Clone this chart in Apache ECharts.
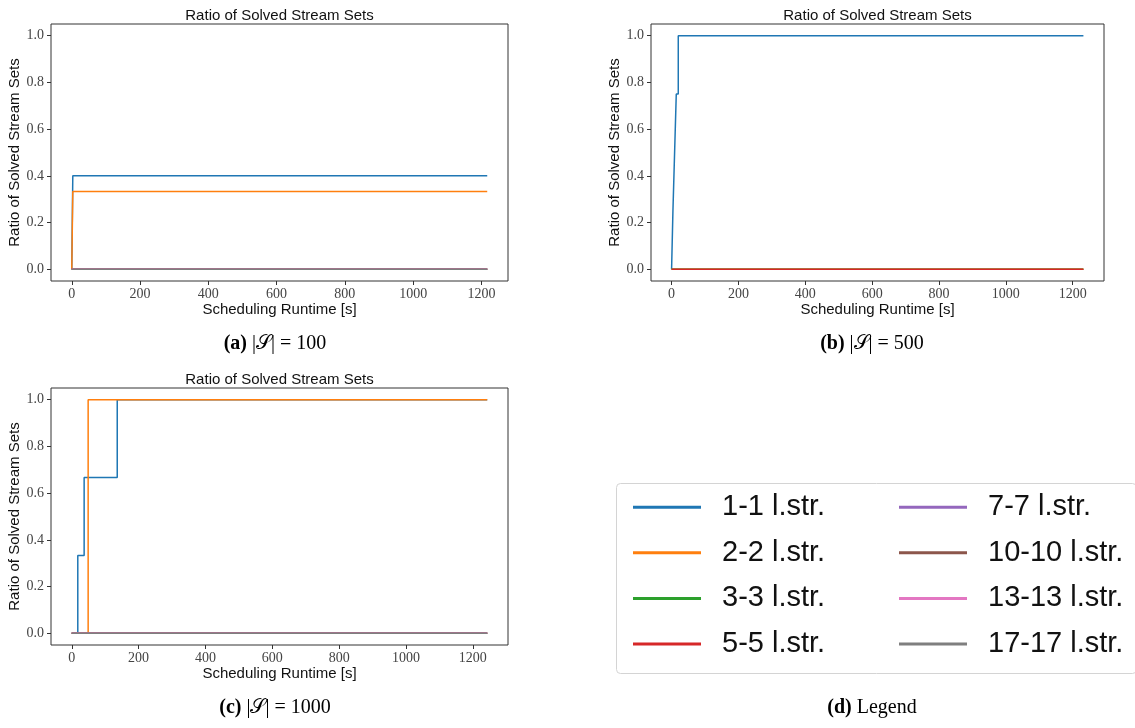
<!DOCTYPE html>
<html>
<head>
<meta charset="utf-8">
<script src="https://cdn.jsdelivr.net/npm/echarts@6/dist/echarts.min.js"></script>
<style>
html,body{margin:0;padding:0;background:#fff;}
#c{width:1135px;height:728px;}
</style>
</head>
<body>
<div id="c"></div>
<script>
// ---- data ----
const seriesNames = ['1-1 l.str.', '2-2 l.str.', '3-3 l.str.', '5-5 l.str.', '7-7 l.str.', '10-10 l.str.', '13-13 l.str.', '17-17 l.str.'];
const colors = ['#1f77b4', '#ff7f0e', '#2ca02c', '#d62728', '#9467bd', '#8c564b', '#e377c2', '#7f7f7f'];
const xTicks = [0, 200, 400, 600, 800, 1000, 1200];
const yTicks = [0, 0.2, 0.4, 0.6, 0.8, 1.0];

// Panel (a) |S| = 100
const a_end = 1217;
const a_x_11 = [0, 3, a_end];        const a_y_11 = [0, 0.4, 0.4];
const a_x_22 = [0, 3, a_end];        const a_y_22 = [0, 0.333, 0.333];
const a_x_zero = [0, a_end];         const a_y_zero = [0, 0];

// Panel (b) |S| = 500
const b_end = 1232;
const b_x_11 = [0, 4, 9, 14, 20, b_end]; const b_y_11 = [0, 0.25, 0.5, 0.75, 1.0, 1.0];
const b_x_zero = [0, b_end];             const b_y_zero = [0, 0];

// Panel (c) |S| = 1000
const c_end = 1243;
const c_x_11 = [0, 18, 37, 136, c_end]; const c_y_11 = [0, 0.333, 0.667, 1.0, 1.0];
const c_x_22 = [0, 49, c_end];          const c_y_22 = [0, 1.0, 1.0];
const c_x_zero = [0, c_end];            const c_y_zero = [0, 0];

// per panel: list of [x array, y array] for each series index
const panels = [
  { end: a_end, lines: [[a_x_11, a_y_11], [a_x_22, a_y_22], [a_x_zero, a_y_zero], [a_x_zero, a_y_zero], [a_x_zero, a_y_zero], [a_x_zero, a_y_zero], [a_x_zero, a_y_zero], [a_x_zero, a_y_zero]] },
  { end: b_end, lines: [[b_x_11, b_y_11], [b_x_zero, b_y_zero], [b_x_zero, b_y_zero], [b_x_zero, b_y_zero]] },
  { end: c_end, lines: [[c_x_11, c_y_11], [c_x_22, c_y_22], [c_x_zero, c_y_zero], [c_x_zero, c_y_zero], [c_x_zero, c_y_zero], [c_x_zero, c_y_zero], [c_x_zero, c_y_zero], [c_x_zero, c_y_zero]] }
];
const captions = [
  { lab: '(a)', txt: ' |𝒮| = 100' },
  { lab: '(b)', txt: ' |𝒮| = 500' },
  { lab: '(c)', txt: ' |𝒮| = 1000' },
  { lab: '(d)', txt: ' Legend' }
];

// ---- layout ----
const gridBoxes = [
  { left: 51, top: 24, width: 457, height: 257 },
  { left: 651, top: 24, width: 453, height: 257 },
  { left: 51, top: 388, width: 457, height: 257 }
];
const SANS = '"Liberation Sans", Arial, sans-serif';
const SERIF = '"Liberation Serif", "Times New Roman", serif';

const grids = [], xAxes = [], yAxes = [], series = [], graphics = [];
panels.forEach((p, i) => {
  const g = gridBoxes[i];
  grids.push(Object.assign({ show: true, borderColor: '#333', borderWidth: 1, backgroundColor: '#fff', containLabel: false }, g));
  const pad = p.end * 0.05;
  xAxes.push({
    type: 'value', gridIndex: i, min: -pad, max: p.end + pad, position: 'bottom',
    name: 'Scheduling Runtime [s]', nameLocation: 'middle', nameGap: 18,
    nameTextStyle: { fontFamily: SANS, fontSize: 15, color: '#111' },
    axisLine: { show: false, onZero: false },
    axisTick: { show: true, inside: false, length: 4, lineStyle: { color: '#333', width: 1 }, customValues: xTicks },
    axisLabel: { show: true, margin: 6, fontFamily: SERIF, fontSize: 14, color: '#444', customValues: xTicks, formatter: v => String(Math.round(v)) },
    splitLine: { show: false }
  });
  yAxes.push({
    type: 'value', gridIndex: i, min: -0.05, max: 1.05, position: 'left',
    name: 'Ratio of Solved Stream Sets', nameLocation: 'middle', nameGap: 27, nameRotate: 90,
    nameTextStyle: { fontFamily: SANS, fontSize: 15, color: '#111' },
    axisLine: { show: false, onZero: false },
    axisTick: { show: true, inside: false, length: 4, lineStyle: { color: '#333', width: 1 }, customValues: yTicks },
    axisLabel: { show: true, margin: 7, fontFamily: SERIF, fontSize: 14, color: '#444', customValues: yTicks, formatter: v => v.toFixed(1) },
    splitLine: { show: false }
  });
  p.lines.forEach((ln, k) => {
    const xs = ln[0], ys = ln[1];
    series.push({
      type: 'line', name: seriesNames[k], xAxisIndex: i, yAxisIndex: i,
      step: 'end', symbol: 'none', silent: true, animation: false,
      lineStyle: { color: colors[k], width: 1.5 },
      itemStyle: { color: colors[k] },
      data: xs.map((x, j) => [x, ys[j]]),
      z: 2 + k
    });
  });
  // panel title
  graphics.push({
    type: 'text', x: g.left + g.width / 2, y: g.top - 8,
    style: { text: 'Ratio of Solved Stream Sets', font: '15px ' + SANS, fill: '#111', align: 'center', verticalAlign: 'middle' }
  });
});

const capPos = [[275, 344], [872, 344], [275, 708], [872, 708]];
captions.forEach((c, i) => {
  graphics.push({
    type: 'text', x: capPos[i][0], y: capPos[i][1],
    style: {
      text: '{b|' + c.lab + '}{n|' + c.txt + '}',
      align: 'center', verticalAlign: 'middle',
      rich: {
        b: { fontFamily: SERIF, fontSize: 20, fontWeight: 'bold', fill: '#000' },
        n: { fontFamily: SERIF, fontSize: 20, fill: '#000' }
      }
    }
  });
});

// legend frame
graphics.push({
  type: 'rect', shape: { x: 616.5, y: 483.5, width: 520, height: 190, r: 4 },
  style: { fill: '#fff', stroke: '#d4d4d4', lineWidth: 1 }, z: -1
});

const legendCommon = {
  orient: 'vertical', icon: 'rect', itemWidth: 68, itemHeight: 3, itemGap: 15.6,
  selectedMode: false,
  textStyle: { fontFamily: SANS, fontSize: 29, color: '#111', lineHeight: 30, padding: [0, 0, 0, 16] }
};

const chart = echarts.init(document.getElementById('c'), null, { renderer: 'canvas' });
chart.setOption({
  backgroundColor: '#fff',
  animation: false,
  color: colors,
  grid: grids,
  xAxis: xAxes,
  yAxis: yAxes,
  legend: [
    Object.assign({}, legendCommon, { left: 628, top: 487.2, data: seriesNames.slice(0, 4) }),
    Object.assign({}, legendCommon, { left: 894, top: 487.2, data: seriesNames.slice(4, 8) })
  ],
  graphic: graphics,
  series: series
});
</script>
</body>
</html>
